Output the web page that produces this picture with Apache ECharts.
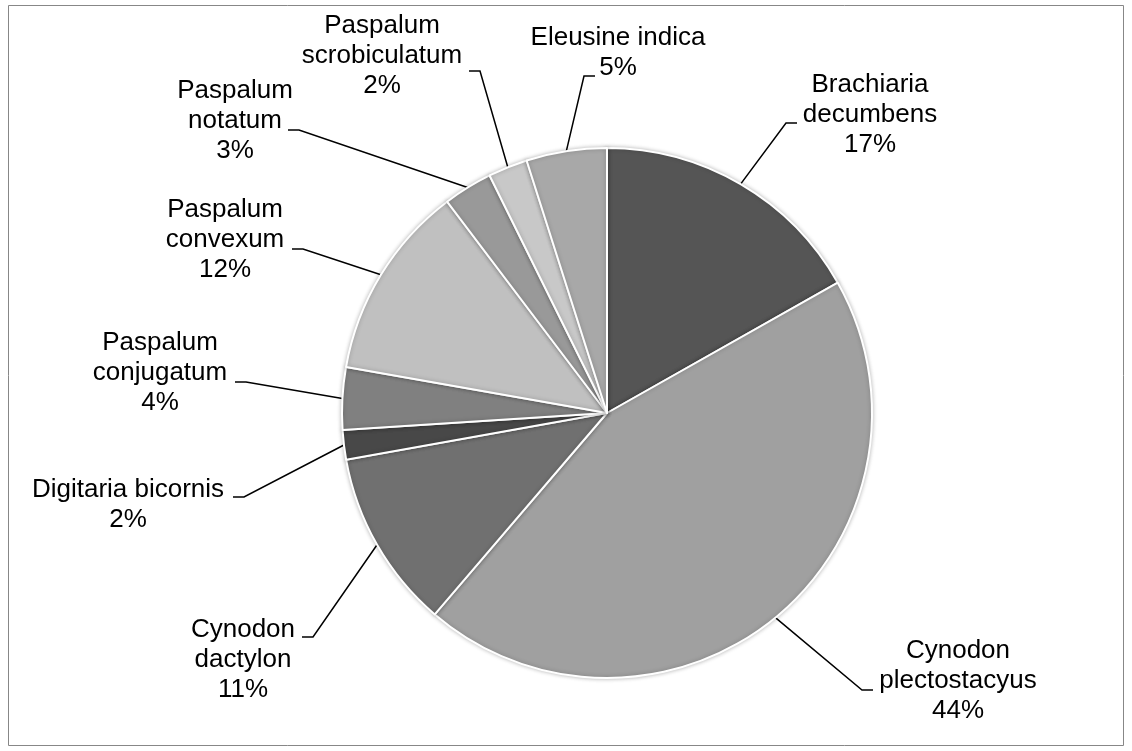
<!DOCTYPE html>
<html>
<head>
<meta charset="utf-8">
<script src="https://cdn.jsdelivr.net/npm/echarts@6/dist/echarts.min.js"></script>
<style>
  html, body { margin: 0; padding: 0; background: #fff; }
  #pie { width: 1132px; height: 751px; }
</style>
</head>
<body>
<div id="pie"></div>
<script>
// species, clockwise from 12 o'clock
const species = [
  'Brachiaria\ndecumbens',
  'Cynodon\nplectostacyus',
  'Cynodon\ndactylon',
  'Digitaria bicornis',
  'Paspalum\nconjugatum',
  'Paspalum\nconvexum',
  'Paspalum\nnotatum',
  'Paspalum\nscrobiculatum',
  'Eleusine indica'
]
// share of each species (%)
const shares = [16.8, 44.4, 10.9, 1.8, 3.8, 11.9, 3.0, 2.4, 4.9]
const greys = ['#555555', '#a0a0a0', '#707070', '#484848', '#808080', '#c0c0c0', '#999999', '#c8c8c8', '#a8a8a8']

// where excel put the labels: [label centre x, y, leader end x, y]
const labelSpots = [
  [870, 115, 797, 123],
  [958, 681, 873, 690],
  [243, 660, 302, 637],
  [128, 505, 233, 497],
  [160, 373, 235, 382],
  [225, 240, 292, 249],
  [235, 121, 288, 130],
  [382, 56, 469, 71],
  [618, 53, 595, 76]
]

let myChart = echarts.init(document.getElementById('pie'))
let option = {
  backgroundColor: '#fff',
  animation: false,
  graphic: [{
    type: 'rect',
    shape: { x: 8.5, y: 5.5, width: 1115, height: 740 },
    style: { fill: 'none', stroke: '#878787', lineWidth: 1 }
  }],
  series: [{
    type: 'pie',
    center: [607, 413],
    radius: 265,
    startAngle: 90,
    clockwise: true,
    avoidLabelOverlap: false,
    percentPrecision: 0,
    data: species.map((name, i) => ({
      name: name,
      value: shares[i],
      itemStyle: { color: greys[i] }
    })),
    itemStyle: {
      borderColor: '#fff',
      borderWidth: 2,
      shadowBlur: 4,
      shadowColor: 'rgba(0,0,0,0.25)'
    },
    label: {
      show: true,
      position: 'outside',
      formatter: '{b}\n{d}%',
      color: '#000',
      fontFamily: 'Liberation Sans, Arial, sans-serif',
      fontSize: 26,
      lineHeight: 30,
      align: 'center'
    },
    labelLine: {
      show: true,
      length: 20,
      length2: 10,
      lineStyle: { color: '#000', width: 1.5 }
    },
    labelLayout: function (params) {
      const s = labelSpots[params.dataIndex]
      const start = params.labelLinePoints ? params.labelLinePoints[0] : [s[2], s[3]]
      const elbowX = s[2] < s[0] ? s[2] - 11 : s[2] + 11
      return {
        x: s[0],
        y: s[1],
        align: 'center',
        verticalAlign: 'middle',
        labelLinePoints: [start, [elbowX, s[3]], [s[2], s[3]]]
      }
    },
    emphasis: { disabled: true }
  }]
}
option && myChart.setOption(option)
</script>
</body>
</html>
